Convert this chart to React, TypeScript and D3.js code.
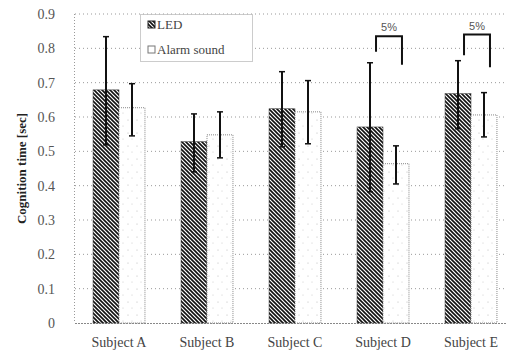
import React, { useEffect, useRef } from 'react';
import * as d3 from 'd3';

const subjects = ['Subject A', 'Subject B', 'Subject C', 'Subject D', 'Subject E'];
const ledMean = [0.679, 0.528, 0.624, 0.571, 0.668];
const ledLow = [0.519, 0.44, 0.513, 0.382, 0.566];
const ledHigh = [0.834, 0.609, 0.732, 0.758, 0.764];
const alarmMean = [0.627, 0.548, 0.615, 0.464, 0.606];
const alarmLow = [0.545, 0.481, 0.522, 0.405, 0.542];
const alarmHigh = [0.697, 0.615, 0.706, 0.516, 0.671];
const yTicks = [0, 0.1, 0.2, 0.3, 0.4, 0.5, 0.6, 0.7, 0.8, 0.9];
// significance brackets: subject, bar top, left leg end, right leg end
const sigSubjects = ['Subject D', 'Subject E'];
const sigTop = [0.835, 0.84];
const sigLeftEnd = [0.79, 0.78];
const sigRightEnd = [0.752, 0.745];
const sigLabel = ['5%', '5%'];

const serif = "'Liberation Serif', 'Times New Roman', 'DejaVu Serif', serif";

export default function App() {
  const ref = useRef<SVGSVGElement>(null);

  useEffect(() => {
    const svg = d3.select(ref.current);
    svg.selectAll('*').remove();

    const x = d3.scaleBand<string>().domain(subjects).range([75, 515]).paddingInner(0.41).paddingOuter(0.205);
    const y = d3.scaleLinear().domain([0, 0.9]).range([323, 14]);
    const bw = x.bandwidth() / 2;

    const defs = svg.append('defs');
    const hatch = defs.append('pattern')
      .attr('id', 'hatch').attr('patternUnits', 'userSpaceOnUse')
      .attr('width', 4).attr('height', 4);
    hatch.append('rect').attr('width', 4).attr('height', 4).attr('fill', '#fff');
    hatch.append('path').attr('d', 'M-1,-1 L5,5 M-1,3 L1,5 M3,-1 L5,1')
      .attr('stroke', '#111').attr('stroke-width', 1.6);

    const dots = defs.append('pattern')
      .attr('id', 'dots').attr('patternUnits', 'userSpaceOnUse')
      .attr('width', 9).attr('height', 13);
    dots.append('rect').attr('width', 9).attr('height', 13).attr('fill', '#fff');
    dots.append('circle').attr('cx', 2).attr('cy', 3).attr('r', 0.6).attr('fill', '#bbb');
    dots.append('circle').attr('cx', 6).attr('cy', 9).attr('r', 0.6).attr('fill', '#ccc');

    // grid
    svg.append('g').selectAll('line').data(yTicks.slice(1)).join('line')
      .attr('x1', 75).attr('x2', 506)
      .attr('y1', d => y(d)).attr('y2', d => y(d))
      .attr('stroke', '#999').attr('stroke-width', 1).attr('stroke-dasharray', '1,3');
    svg.append('line').attr('x1', 74.5).attr('x2', 74.5).attr('y1', y(0.9)).attr('y2', y(0))
      .attr('stroke', '#999').attr('stroke-dasharray', '1,2');
    svg.append('line').attr('x1', 75).attr('x2', 506).attr('y1', y(0) + 0.5).attr('y2', y(0) + 0.5)
      .attr('stroke', '#888').attr('stroke-dasharray', '2,1');

    // y tick labels
    svg.append('g').selectAll('text').data(yTicks).join('text')
      .attr('x', 55).attr('y', d => y(d) + 5)
      .attr('text-anchor', 'end')
      .style('font-family', serif).attr('font-size', 14).attr('fill', '#555')
      .text(d => d === 0 ? '0' : d3.format('.1f')(d));

    // y axis title
    svg.append('text')
      .attr('transform', `translate(26,${y(0.45)}) rotate(-90)`)
      .attr('text-anchor', 'middle')
      .style('font-family', serif).attr('font-size', 13).attr('font-weight', 'bold')
      .attr('fill', '#222')
      .text('Cognition time [sec]');

    // bars
    const g = svg.append('g');
    subjects.forEach((s, i) => {
      const x0 = x(s)!;
      g.append('rect').attr('x', x0).attr('y', y(ledMean[i]))
        .attr('width', bw).attr('height', y(0) - y(ledMean[i]))
        .attr('fill', 'url(#hatch)').attr('stroke', '#333').attr('stroke-width', 0.5);
      g.append('rect').attr('x', x0 + bw).attr('y', y(alarmMean[i]))
        .attr('width', bw).attr('height', y(0) - y(alarmMean[i]))
        .attr('fill', 'url(#dots)').attr('stroke', '#888').attr('stroke-width', 1)
        .attr('stroke-dasharray', '1,1');
    });

    // error bars
    const err = (cx: number, lo: number, hi: number) => {
      g.append('line').attr('x1', cx).attr('x2', cx).attr('y1', y(hi)).attr('y2', y(lo))
        .attr('stroke', '#111').attr('stroke-width', 2);
      [lo, hi].forEach(v => g.append('line')
        .attr('x1', cx - 3).attr('x2', cx + 3).attr('y1', y(v)).attr('y2', y(v))
        .attr('stroke', '#111').attr('stroke-width', 1.5));
    };
    subjects.forEach((s, i) => {
      const x0 = x(s)!;
      err(x0 + bw / 2, ledLow[i], ledHigh[i]);
      err(x0 + bw * 1.5, alarmLow[i], alarmHigh[i]);
    });

    // significance brackets
    sigSubjects.forEach((s, i) => {
      const xl = x(s)! + bw / 2 + 6;
      const xr = x(s)! + bw * 1.5 + 6;
      svg.append('path')
        .attr('d', `M${xl},${y(sigLeftEnd[i])} V${y(sigTop[i])} H${xr} V${y(sigRightEnd[i])}`)
        .attr('fill', 'none').attr('stroke', '#111').attr('stroke-width', 2);
      svg.append('text').attr('x', (xl + xr) / 2).attr('y', y(sigTop[i]) - 5)
        .attr('text-anchor', 'middle')
        .style('font-family', "'Liberation Sans', Arial, sans-serif").attr('font-size', 11).attr('fill', '#555')
        .text(sigLabel[i]);
    });

    // x labels
    svg.append('g').selectAll('text').data(subjects).join('text')
      .attr('x', d => x(d)! + x.bandwidth() / 2).attr('y', 347)
      .attr('text-anchor', 'middle')
      .style('font-family', serif).attr('font-size', 14).attr('fill', '#444')
      .text(d => d);

    // legend
    const lg = svg.append('g');
    lg.append('rect').attr('x', 140.5).attr('y', 14.5).attr('width', 112).attr('height', 47)
      .attr('fill', '#fff').attr('stroke', '#999').attr('stroke-dasharray', '1,1');
    lg.append('rect').attr('x', 148).attr('y', 21).attr('width', 7).attr('height', 7)
      .attr('fill', 'url(#hatch)').attr('stroke', '#222');
    lg.append('rect').attr('x', 148).attr('y', 46).attr('width', 7).attr('height', 7)
      .attr('fill', '#fff').attr('stroke', '#777');
    lg.append('text').attr('x', 157).attr('y', 29)
      .style('font-family', serif).attr('font-size', 13).attr('fill', '#444').text('LED');
    lg.append('text').attr('x', 157).attr('y', 54)
      .style('font-family', serif).attr('font-size', 13).attr('fill', '#444').text('Alarm sound');
  }, []);

  return (
    <div style={{ position: 'absolute', left: 0, top: 0 }}>
      <svg ref={ref} width={506} height={352} style={{ display: 'block', background: '#fff' }}></svg>
    </div>
  );
}
